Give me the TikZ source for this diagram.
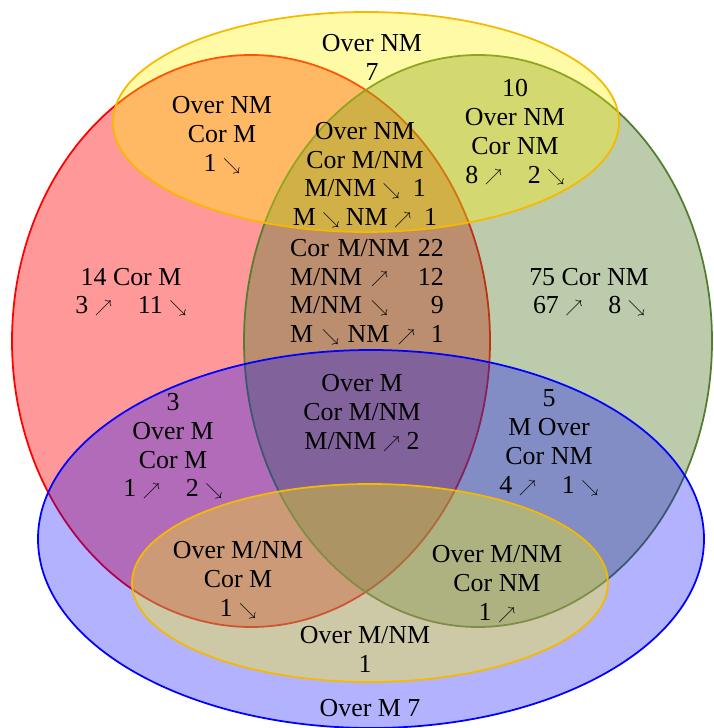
\documentclass[tikz,border=0pt]{standalone}
\usepackage{fontspec}
\setmainfont{Liberation Serif}
\usepackage{graphicx}
\usepackage{xcolor}
\usepackage{tikz}
\definecolor{setgreen}{RGB}{85,125,48}
\definecolor{setgold}{RGB}{245,185,0}
\newcommand{\arrup}{\raisebox{0.1ex}{\scalebox{0.65}{$\nearrow$}}}
\newcommand{\arrdn}{\raisebox{0.1ex}{\scalebox{0.65}{$\searrow$}}}

\begin{document}
\begin{tikzpicture}[x=0.016cm, y=-0.016cm,
    set/.style={line width=0.8pt, fill opacity=0.4},
    lbl/.style={align=center, inner sep=0pt, font=\fontsize{11.8}{13.2}\selectfont}]
    \useasboundingbox (0,0) rectangle (713,728);

    % Sets: M (red), NM (green), Over M (blue), Over M/NM and Over NM (gold)
    \draw[set, draw=red, fill=red] (251,341) ellipse [x radius=239, y radius=286];
    \draw[set, draw=setgreen, fill=setgreen] (478,341) ellipse [x radius=234, y radius=286];
    \draw[set, draw=blue, fill=blue, fill opacity=0.3] (371,539) ellipse [x radius=333, y radius=189];
    \draw[set, draw=setgold, fill=yellow, fill opacity=0.35] (370,583) ellipse [x radius=238, y radius=99];
    \draw[set, draw=setgold, fill=yellow, fill opacity=0.35] (366,122) ellipse [x radius=253, y radius=110];

    % Region counts
    \node[lbl] (onm) at (372,57) {Over NM\\7};
    \node[lbl] (onmcm) at (222,135) {Over NM\\Cor M\\1 \arrdn};
    \node[lbl] (onmcnm) at (515,132) {10\\Over NM\\Cor NM\\8 \arrup\quad 2 \arrdn};
    \node[lbl] (onmcb) at (365,175) {Over NM\\Cor M/NM\\M/NM \arrdn\enspace 1\\M \arrdn\ NM \arrup\enspace 1};
    \node[lbl, align=left, text width=70pt] (cb) at (367,292)
        {Cor M/NM\hfill 22\\M/NM \arrup\hfill 12\\M/NM \arrdn\hfill 9\\M \arrdn\ NM \arrup\hfill 1};
    \node[lbl] (cm) at (131,292) {14 Cor M\\3 \arrup\quad 11 \arrdn};
    \node[lbl] (cnm) at (589,292) {75 Cor NM\\67 \arrup\quad 8 \arrdn};
    \node[lbl] (omcb) at (362,413) {Over M\\Cor M/NM\\M/NM \arrup\ 2};
    \node[lbl] (omcm) at (173,446) {3\\Over M\\Cor M\\1 \arrup\quad 2 \arrdn};
    \node[lbl] (omcnm) at (549,443) {5\\M Over\\Cor NM\\4 \arrup\quad 1 \arrdn};
    \node[lbl] (obcm) at (238,580) {Over M/NM\\Cor M\\1 \arrdn};
    \node[lbl] (obcnm) at (497,584) {Over M/NM\\Cor NM\\1 \arrup};
    \node[lbl] (ob) at (365,649) {Over M/NM\\1};
    \node[lbl] (om) at (370,708) {Over M 7};
\end{tikzpicture}
\end{document}
